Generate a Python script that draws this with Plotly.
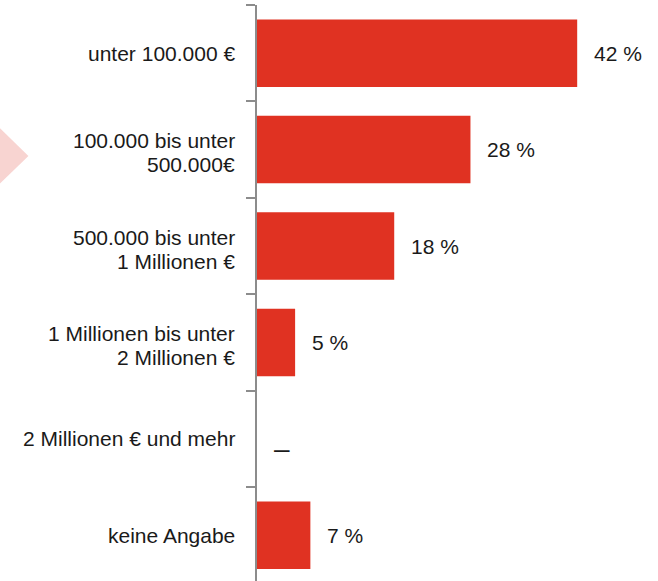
import plotly.graph_objects as go

# Revenue bands (German labels) and their share in percent
categories = [
    "unter 100.000 €",
    "100.000 bis unter\n500.000€",
    "500.000 bis unter\n1 Millionen €",
    "1 Millionen bis unter\n2 Millionen €",
    "2 Millionen € und mehr",
    "keine Angabe",
]
shares = [42, 28, 18, 5, 0, 7]
value_labels = ["42 %", "28 %", "18 %", "5 %", "–", "7 %"]

BAR_COLOR = "#E03222"
AXIS_COLOR = "#8C8C8C"
TEXT_COLOR = "#1A1A1A"
FONT = "Arial, Liberation Sans, sans-serif"
FONT_SIZE = 21

fig = go.Figure(
    go.Bar(
        x=shares,
        y=categories,
        orientation="h",
        width=0.7,
        marker=dict(color=BAR_COLOR, line=dict(width=0)),
        hoverinfo="skip",
    )
)

annotations = []
for cat, val, lab in zip(categories, shares, value_labels):
    # value label to the right of each bar; the dash for "no value" sits lower and wider
    is_dash = lab == "–"
    annotations.append(dict(
        x=val, y=cat, xref="x", yref="y", text=lab, showarrow=False,
        xanchor="left", yanchor="middle", xshift=15,
        yshift=-10 if is_dash else 0,
        font=dict(family=FONT, size=28 if is_dash else FONT_SIZE, color=TEXT_COLOR),
    ))
    # category label, right-aligned left of the axis
    lines = cat.split("\n")
    offsets = [0] if len(lines) == 1 else [9, -15]
    for line, off in zip(lines, offsets):
        annotations.append(dict(
            x=0, y=cat, xref="x", yref="y", text=line, showarrow=False,
            xanchor="right", yanchor="middle", xshift=-20, yshift=off,
            font=dict(family=FONT, size=FONT_SIZE, color=TEXT_COLOR),
        ))

# light pink arrow tip at the left edge
shapes = [dict(
    type="path", xref="paper", yref="paper",
    path="M -0.65,0.792 L -0.57,0.738 L -0.65,0.684 Z",
    fillcolor="#F8D4D1", line=dict(width=0), layer="below",
)]

fig.update_layout(
    width=658, height=581,
    margin=dict(l=257, r=0, t=5, b=0),
    paper_bgcolor="white", plot_bgcolor="white",
    showlegend=False,
    bargap=0.3,
    annotations=annotations,
    shapes=shapes,
    xaxis=dict(range=[0, 52.6], visible=False, fixedrange=True),
    yaxis=dict(
        type="category",
        categoryorder="array", categoryarray=categories,
        range=[5.475, -0.5],
        showticklabels=False,
        showline=True, linecolor=AXIS_COLOR, linewidth=2,
        ticks="outside", tickson="boundaries", ticklen=9,
        tickcolor=AXIS_COLOR, tickwidth=2,
        showgrid=False, zeroline=False, fixedrange=True,
    ),
)

fig.write_html("out.html")
